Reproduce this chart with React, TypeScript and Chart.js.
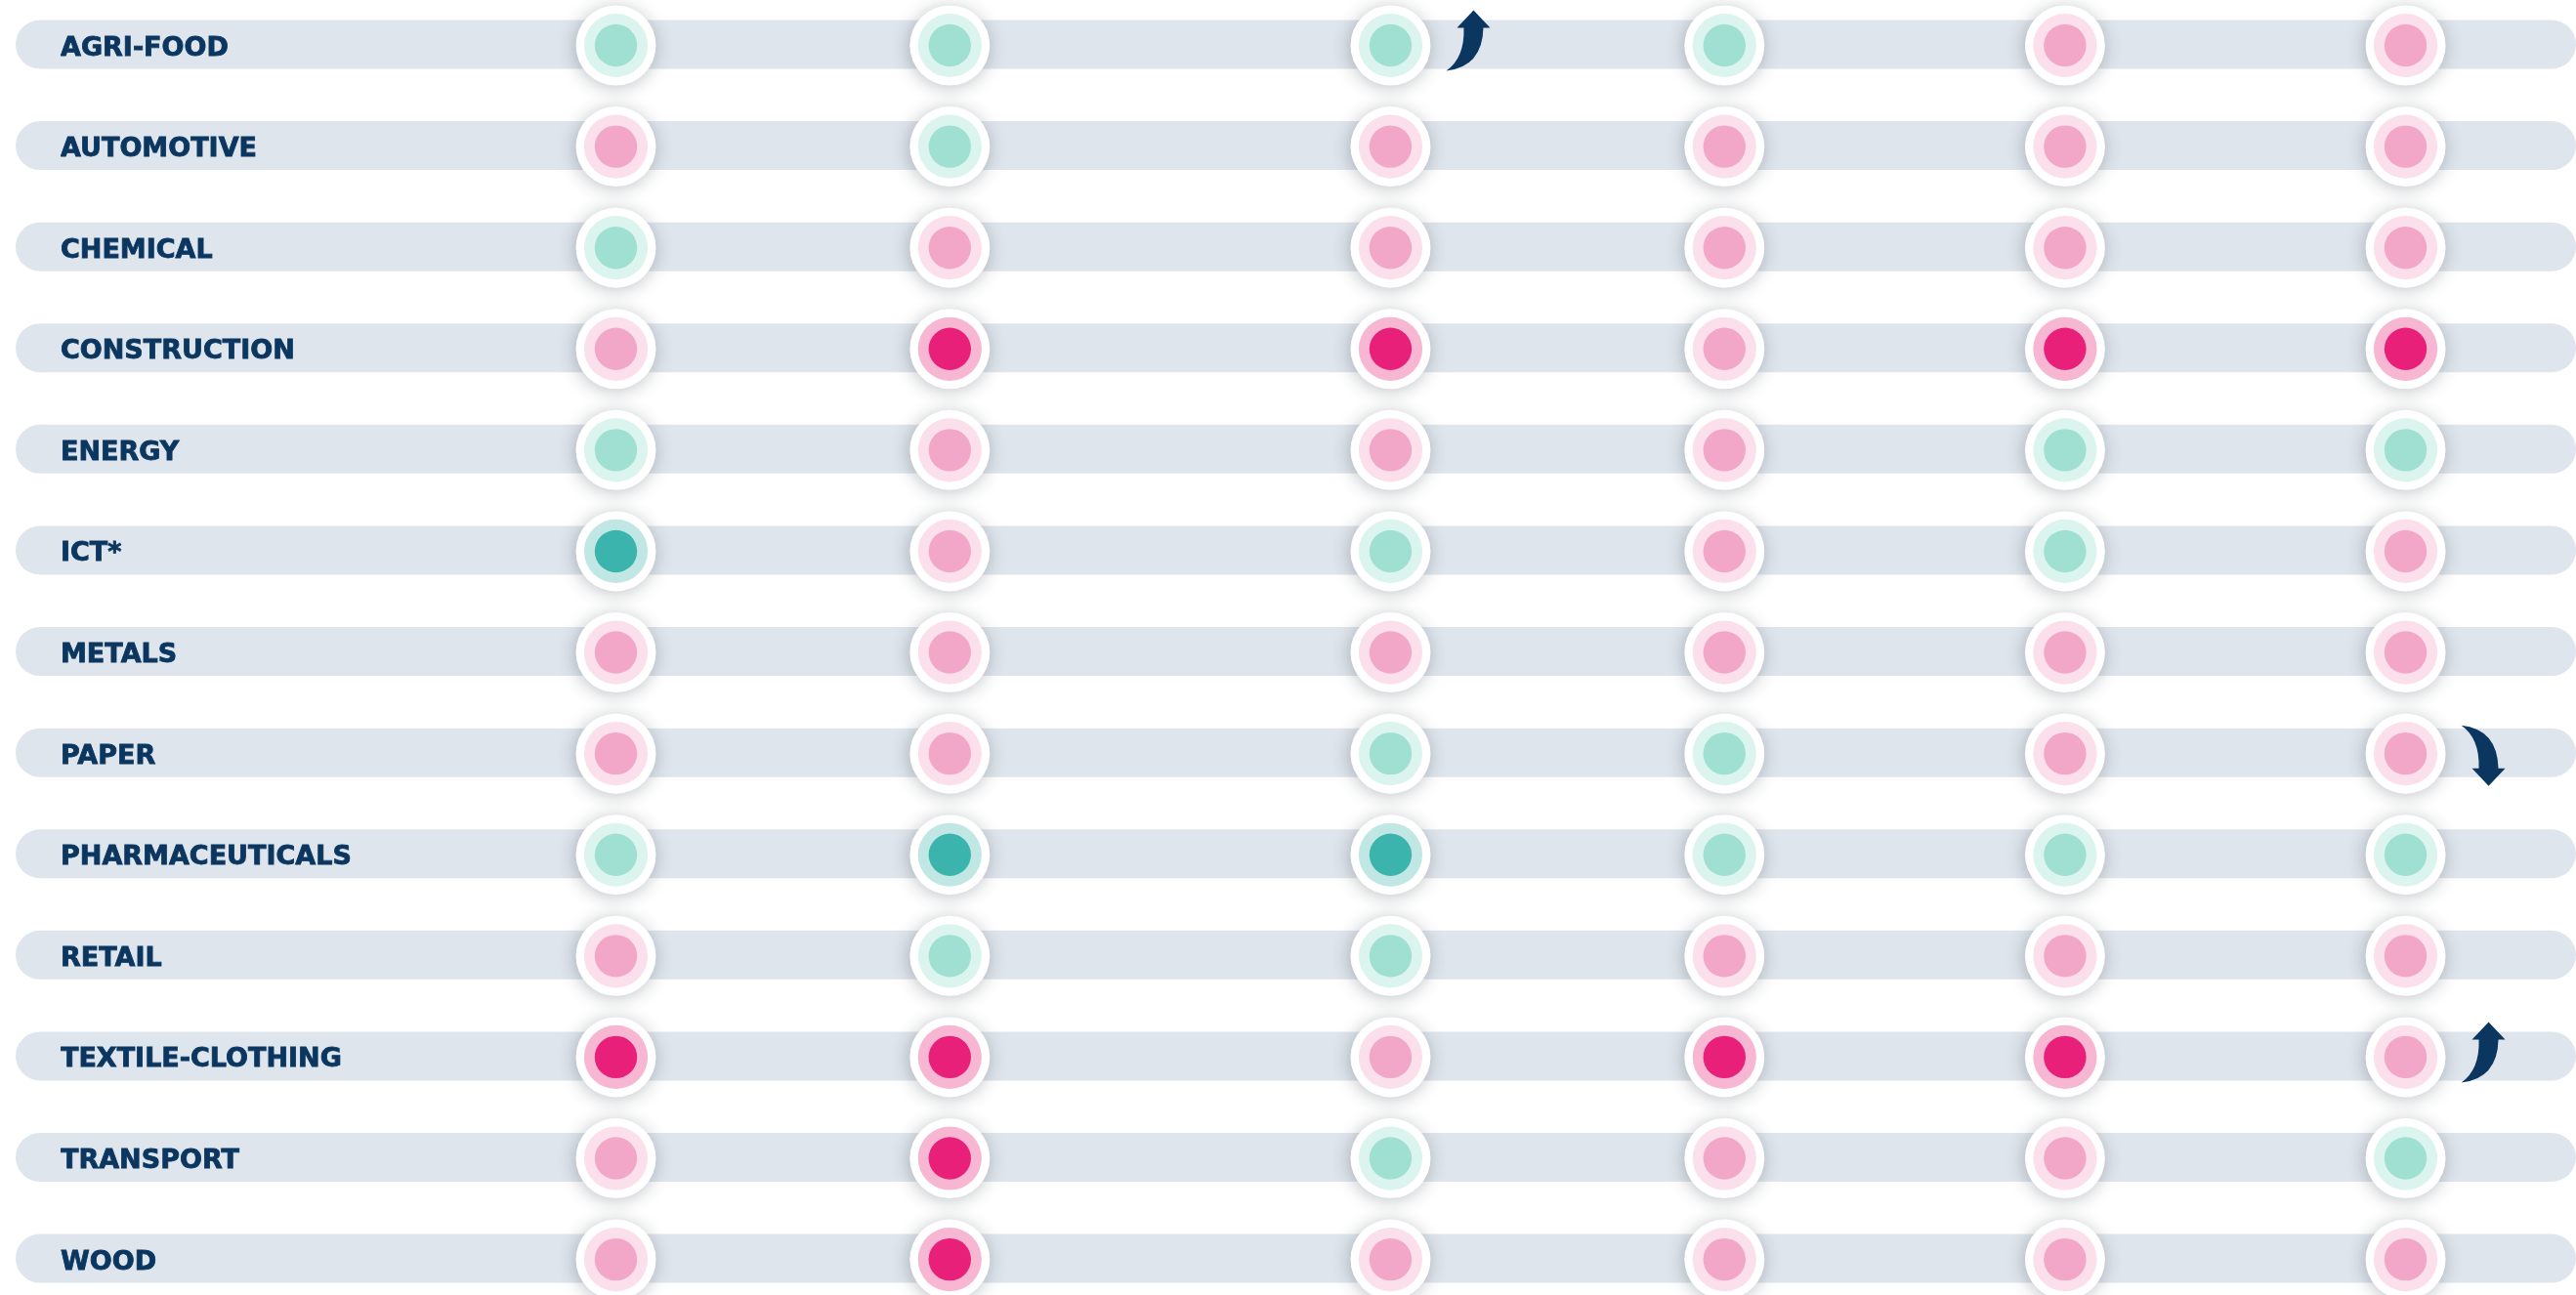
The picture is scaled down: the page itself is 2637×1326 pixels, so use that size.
import React, { useEffect, useRef } from 'react';
import { Chart, registerables } from 'chart.js';

Chart.register(...registerables);

// ---- Data ----
const sectors = [
  'AGRI-FOOD',
  'AUTOMOTIVE',
  'CHEMICAL',
  'CONSTRUCTION',
  'ENERGY',
  'ICT*',
  'METALS',
  'PAPER',
  'PHARMACEUTICALS',
  'RETAIL',
  'TEXTILE-CLOTHING',
  'TRANSPORT',
  'WOOD',
];

// Column centres on the (hidden) horizontal axis
const columnPositions = [1, 2, 3.32, 4.32, 5.34, 6.36];

// Ratings per column: 2 = strong positive, 1 = positive, -1 = negative, -2 = strong negative
const column1 = [1, -1, 1, -1, 1, 2, -1, -1, 1, -1, -2, -1, -1];
const column2 = [1, 1, -1, -2, -1, -1, -1, -1, 2, 1, -2, -2, -2];
const column3 = [1, -1, -1, -2, -1, 1, -1, 1, 2, 1, -1, 1, -1];
const column4 = [1, -1, -1, -1, -1, -1, -1, 1, 1, -1, -2, -1, -1];
const column5 = [-1, -1, -1, -2, 1, 1, -1, -1, 1, -1, -2, -1, -1];
const column6 = [-1, -1, -1, -2, 1, -1, -1, -1, 1, -1, -1, 1, -1];

const trendSectors = ['AGRI-FOOD', 'PAPER', 'TEXTILE-CLOTHING'];
const trendColumns = [2, 5, 5];
const trendDirections = ['up', 'down', 'up'];

// ---- Styles ----
const RING: Record<string, string> = { '2': '#c0e7e4', '1': '#dcf4ee', '-1': '#fbe0ec', '-2': '#f7b6d2' };
const CORE: Record<string, string> = { '2': '#3cb4ae', '1': '#9fe0d2', '-1': '#f2a7c9', '-2': '#e8207a' };
const BAND = '#dfe5ec';
const NAVY = '#0b3660';

const columns = [column1, column2, column3, column4, column5, column6];

function buildPoints() {
  const pts: { x: number; y: string; v: number }[] = [];
  columns.forEach((col, c) => {
    col.forEach((v, r) => {
      pts.push({ x: columnPositions[c], y: sectors[r], v });
    });
  });
  return pts;
}

const bandPlugin = {
  id: 'rowBands',
  beforeDraw(chart: any) {
    const { ctx, scales } = chart;
    const y = scales.y;
    ctx.save();
    ctx.fillStyle = BAND;
    sectors.forEach((_, i) => {
      const py = y.getPixelForValue(i) - 1;
      ctx.beginPath();
      (ctx as any).roundRect(16, py - 25, 2637 - 16, 50, 25);
      ctx.fill();
    });
    ctx.restore();
  },
};

const shadowPlugin = {
  id: 'dotShadow',
  beforeDatasetDraw(chart: any, args: any) {
    if (chart.data.datasets[args.index].label !== 'base') return;
    const ctx = chart.ctx;
    ctx.save();
    ctx.shadowColor = 'rgba(40,50,60,0.3)';
    ctx.shadowBlur = 18;
    ctx.shadowOffsetX = -1;
    ctx.shadowOffsetY = 2;
  },
  afterDatasetDraw(chart: any, args: any) {
    if (chart.data.datasets[args.index].label !== 'base') return;
    chart.ctx.restore();
  },
};

function drawArrow(ctx: CanvasRenderingContext2D, cx: number, cy: number, dir: string) {
  const s = dir === 'up' ? 1 : -1;
  const oy = dir === 'up' ? 0 : -3;
  const P = (dx: number, dy: number): [number, number] => [cx + dx, cy + oy + s * dy];
  ctx.beginPath();
  ctx.moveTo(...P(85, -36));
  ctx.lineTo(...P(102, -18));
  ctx.lineTo(...P(95, -18));
  const c1 = P(94, 22);
  const t = P(57, 26);
  ctx.quadraticCurveTo(c1[0], c1[1], t[0], t[1]);
  const c2 = P(76, 13);
  const l = P(75, -18);
  ctx.quadraticCurveTo(c2[0], c2[1], l[0], l[1]);
  ctx.lineTo(...P(68, -18));
  ctx.closePath();
  ctx.fill();
}

const arrowPlugin = {
  id: 'trendArrows',
  afterDatasetsDraw(chart: any) {
    const { ctx, scales } = chart;
    ctx.save();
    ctx.fillStyle = NAVY;
    trendSectors.forEach((sec, i) => {
      const cx = scales.x.getPixelForValue(columnPositions[trendColumns[i]]);
      const cy = scales.y.getPixelForValue(sectors.indexOf(sec));
      drawArrow(ctx, cx, cy, trendDirections[i]);
    });
    ctx.restore();
  },
};

export default function App() {
  const canvasRef = useRef<HTMLCanvasElement | null>(null);

  useEffect(() => {
    document.body.style.margin = '0';
    document.body.style.overflow = 'hidden';
    const canvas = canvasRef.current;
    if (!canvas) return;
    const points = buildPoints();
    const colorOf = (map: Record<string, string>) => (c: any) => {
      const raw = c.raw as any;
      return raw ? map[String(raw.v)] : '#fff';
    };
    const chart = new Chart(canvas, {
      type: 'scatter',
      data: {
        datasets: [
          {
            label: 'core',
            data: points,
            order: 1,
            clip: false as any,
            pointRadius: 21.7,
            pointBorderWidth: 0,
            pointBackgroundColor: colorOf(CORE) as any,
            backgroundColor: colorOf(CORE) as any,
            borderWidth: 0,
          },
          {
            label: 'ring',
            data: points,
            order: 2,
            clip: false as any,
            pointRadius: 32.6,
            pointBorderWidth: 0,
            pointBackgroundColor: colorOf(RING) as any,
            backgroundColor: colorOf(RING) as any,
            borderWidth: 0,
          },
          {
            label: 'base',
            data: points,
            order: 3,
            clip: false as any,
            pointRadius: 41,
            pointBorderWidth: 0,
            pointBackgroundColor: '#ffffff',
            backgroundColor: '#ffffff',
            borderWidth: 0,
          },
        ] as any,
      },
      options: {
        responsive: false,
        animation: false,
        devicePixelRatio: 1,
        events: [],
        layout: { autoPadding: false, padding: { left: 62, top: 46.5, bottom: 36.4, right: 0 } },
        plugins: {
          legend: { display: false },
          tooltip: { enabled: false },
        },
        scales: {
          x: {
            type: 'linear',
            display: false,
            min: 0.9108,
            max: 6.8704,
          },
          y: {
            type: 'category',
            labels: sectors,
            offset: false,
            grid: { display: false, drawTicks: false },
            border: { display: false },
            afterFit: (scale: any) => {
              scale.width = 538;
            },
            ticks: {
              crossAlign: 'far',
              labelOffset: 3,
              padding: 0,
              color: NAVY,
              textStrokeColor: NAVY,
              textStrokeWidth: 0.8,
              autoSkip: false,
              font: { family: '"DejaVu Sans", sans-serif', weight: 'bold', size: 27 },
            },
          },
        },
      } as any,
      plugins: [bandPlugin, shadowPlugin, arrowPlugin],
    });
    return () => chart.destroy();
  }, []);

  return (
    <div style={{ width: 2637, height: 1326, background: '#ffffff' }}>
      <canvas ref={canvasRef} width={2637} height={1326} style={{ display: 'block' }} />
    </div>
  );
}
